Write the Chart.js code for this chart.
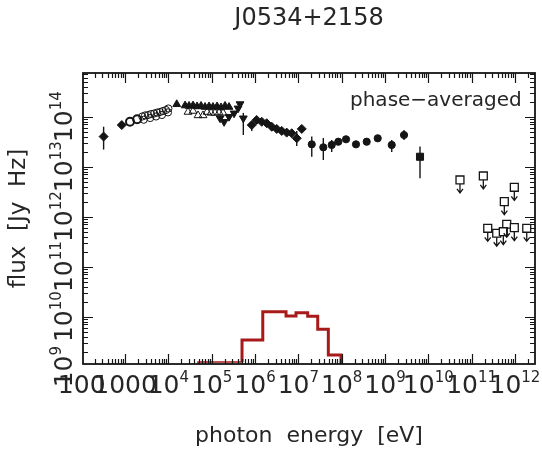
<!DOCTYPE html>
<html>
<head>
<meta charset="utf-8">
<script src="https://cdn.jsdelivr.net/npm/chart.js@4.4.1/dist/chart.umd.min.js"></script>
<style>
  html, body { margin: 0; padding: 0; background: #fff; }
  #c { display: block; }
</style>
</head>
<body>
<canvas id="c" width="542" height="453"></canvas>
<script>
// Spectral energy distribution of J0534+2158, phase-averaged.
// Photon energies in eV, fluxes in Jy Hz.

// radio / sub-mm
const radioE  = [3.2e2, 8.4e2];
const radioF  = [4.0e13, 6.8e13];
const radioLo = [2.2e13, null];
const radioHi = [6.3e13, null];

// infrared
const irE = [1.3e3, 1.9e3];
const irF = [7.9e13, 8.9e13];

// optical (open circles)
const optE = [2.5e3, 2.9e3, 3.4e3, 4.0e3, 4.7e3, 5.5e3, 6.4e3, 7.5e3, 8.8e3, 1.0e4,
              2.7e3, 3.8e3, 5.2e3, 7.1e3, 9.8e3];
const optF = [1.01e14, 1.06e14, 1.08e14, 1.13e14, 1.16e14, 1.21e14, 1.24e14, 1.30e14, 1.36e14, 1.46e14,
              8.7e13, 9.4e13, 1.01e14, 1.08e14, 1.22e14];

// UV (filled triangles)
const uvE = [1.56e4, 2.43e4, 3.0e4, 3.71e4, 4.59e4, 5.68e4, 7.02e4, 8.69e4, 1.07e5, 1.33e5, 1.64e5, 2.03e5, 2.51e5];
const uvF = [1.77e14, 1.67e14, 1.64e14, 1.67e14, 1.60e14, 1.64e14, 1.56e14, 1.60e14, 1.56e14, 1.60e14, 1.53e14, 1.64e14, 1.56e14];

// soft X-ray (open triangles)
const sxE = [2.84e4, 3.71e4, 4.84e4, 6.31e4, 7.80e4, 9.66e4, 1.19e5, 1.48e5, 1.83e5];
const sxF = [1.24e14, 1.30e14, 1.06e14, 1.06e14, 1.24e14, 1.19e14, 1.19e14, 1.21e14, 1.19e14];

// X-ray (inverted triangles)
const xrE  = [1.56e5, 1.93e5, 2.51e5, 3.28e5, 4.06e5, 4.51e5, 5.37e5];
const xrF  = [9.3e13, 7.9e13, 1.0e14, 1.17e14, 1.47e14, 1.79e14, 9.3e13];
const xrLo = [null, null, null, null, null, null, 4.3e13];
const xrHi = [null, null, null, null, null, null, 1.19e14];

// hard X-ray / soft gamma (diamonds)
const hxE  = [8.4e5, 1.09e6, 1.43e6, 1.86e6, 2.43e6, 3.17e6, 4.13e6, 5.39e6, 7.03e6, 9.18e6, 1.20e7];
const hxF  = [6.8e13, 8.6e13, 7.9e13, 7.4e13, 6.3e13, 5.7e13, 5.2e13, 4.8e13, 4.66e13, 3.7e13, 5.7e13];
const hxLo = [5.2e13, null, null, null, 5.2e13, null, 4.3e13, null, 3.9e13, 2.6e13, null];
const hxHi = [8.0e13, null, null, null, 7.4e13, null, 6.1e13, null, 5.5e13, 5.2e13, null];

// gamma rays (filled circles)
const gE  = [2.04e7, 3.77e7, 5.89e7, 8.37e7, 1.26e8, 2.14e8, 3.78e8, 6.79e8, 1.43e9, 2.75e9];
const gF  = [2.8e13, 2.44e13, 2.72e13, 3.16e13, 3.53e13, 2.8e13, 3.16e13, 3.70e13, 2.72e13, 4.3e13];
const gLo = [1.58e13, 1.36e13, 1.97e13, null, null, null, null, null, 1.97e13, 3.4e13];
const gHi = [4.0e13, 3.75e13, 3.42e13, null, null, null, null, null, 3.42e13, 5.4e13];

// highest gamma-ray point (filled square)
const hgE  = [6.43e9];
const hgF  = [1.58e13];
const hgLo = [5.9e12];
const hgHi = [2.54e13];

// TeV upper limits (open squares with arrows)
const ulE = [5.38e10, 1.86e11, 9.66e11, 5.68e11, 2.35e11, 3.79e11, 6.45e11, 5.38e11, 9.66e11, 1.87e12];
const ulF = [5.42e12, 6.52e12, 3.87e12, 2.0e12, 5.86e11, 4.66e11, 7.05e11, 5.0e11, 6.03e11, 5.86e11];

// model histogram: bin edges and levels
const modelEdges  = [4.84e4, 5.01e5, 1.51e6, 5.2e6, 8.83e6, 1.64e7, 2.8e7, 4.92e7, 9.66e7];
const modelLevels = [1.24e9, 3.42e9, 1.26e10, 1.03e10, 1.20e10, 1.02e10, 5.6e9, 1.71e9];
const modelFloor  = 1.1e9;

// axis ticks and their labels
const xTickVals = [1e2, 1e3, 1e4, 1e5, 1e6, 1e7, 1e8, 1e9, 1e10, 1e11, 1e12];
const xTickBase = ['100', '1000', '10', '10', '10', '10', '10', '10', '10', '10', '10'];
const xTickSup  = ['', '', '4', '5', '6', '7', '8', '9', '10', '11', '12'];
const yTickVals = [1e9, 1e10, 1e11, 1e12, 1e13, 1e14];
const yTickBase = ['10', '10', '10', '10', '10', '10'];
const yTickSup  = ['9', '10', '11', '12', '13', '14'];

const titleText = 'J0534+2158';
const xTitle = 'photon  energy  [eV]';
const yTitle = 'flux  [Jy  Hz]';
const noteText = 'phase\u2212averaged';

const zip = (xs, ys) => xs.map((v, i) => ({ x: v, y: ys[i] }));

// thin low-level part of the histogram and the thick main part
const thinPts = [
  { x: modelEdges[0], y: modelFloor },
  { x: modelEdges[0], y: modelLevels[0] },
  { x: modelEdges[1], y: modelLevels[0] }
];
const thickPts = [{ x: modelEdges[1], y: modelLevels[0] }];
for (let i = 1; i < modelLevels.length; i++) thickPts.push({ x: modelEdges[i], y: modelLevels[i] });
thickPts.push({ x: modelEdges[modelEdges.length - 1], y: modelFloor });

const INK = '#151515';
const TEXT = '#262626';
const RED = '#a81a1a';
const FONT = '"DejaVu Sans", "Liberation Sans", sans-serif';

function pts(label, xs, ys, style, extra) {
  return Object.assign({
    label, data: zip(xs, ys), showLine: false,
    pointStyle: style, pointRadius: 4, pointBorderColor: INK,
    pointBackgroundColor: INK, pointBorderWidth: 1, clip: false
  }, extra || {});
}

const datasets = [
  {
    label: 'model (low)', data: thinPts, showLine: true, stepped: true,
    borderColor: RED, borderWidth: 1.6, pointRadius: 0, fill: false
  },
  {
    label: 'model', data: thickPts, showLine: true, stepped: true,
    borderColor: RED, borderWidth: 3, pointRadius: 0, fill: false,
    borderJoinStyle: 'miter', borderCapStyle: 'butt'
  },
  pts('radio', radioE, radioF, 'rectRot', { pointRadius: 4.5, errLo: radioLo, errHi: radioHi }),
  pts('IR', irE, irF, 'circle', { pointRadius: 4, pointBackgroundColor: 'rgba(0,0,0,0)', pointBorderWidth: 2 }),
  pts('optical', optE, optF, 'circle', { pointRadius: 3.6, pointBackgroundColor: 'rgba(0,0,0,0)', pointBorderWidth: 1 }),
  pts('UV', uvE, uvF, 'triangle', { pointRadius: 4.5 }),
  pts('soft X', sxE, sxF, 'triangle', { pointRadius: 4.5, pointBackgroundColor: 'rgba(255,255,255,0)', pointBorderWidth: 1 }),
  pts('X', xrE, xrF, 'triangle', { pointRadius: 4.5, pointRotation: 180, errLo: xrLo, errHi: xrHi }),
  pts('hard X', hxE, hxF, 'rectRot', { pointRadius: 4.5, errLo: hxLo, errHi: hxHi }),
  pts('gamma', gE, gF, 'circle', { pointRadius: 3.6, errLo: gLo, errHi: gHi }),
  pts('gamma high', hgE, hgF, 'rect', { pointRadius: 5, errLo: hgLo, errHi: hgHi }),
  pts('upper limits', ulE, ulF, 'rect', { pointRadius: 5.6, pointBackgroundColor: '#fff', pointBorderWidth: 1.3, upperLimit: true })
];

function drawLabel(ctx, base, sup, cx, baseline, size) {
  const supSize = Math.round(size * 0.6);
  ctx.font = size + 'px ' + FONT;
  const w1 = ctx.measureText(base).width;
  ctx.font = supSize + 'px ' + FONT;
  const w2 = sup ? ctx.measureText(sup).width : 0;
  const start = cx - (w1 + w2) / 2;
  ctx.font = size + 'px ' + FONT;
  ctx.fillText(base, start, baseline);
  if (sup) {
    ctx.font = supSize + 'px ' + FONT;
    ctx.fillText(sup, start + w1, baseline - size * 0.44);
  }
}

const errorBars = {
  id: 'errorBars',
  beforeDatasetsDraw(chart) {
    const { ctx, scales: { x, y } } = chart;
    ctx.save();
    ctx.strokeStyle = INK;
    ctx.lineWidth = 1.4;
    chart.data.datasets.forEach(ds => {
      if (!ds.errLo) return;
      ds.data.forEach((p, i) => {
        if (ds.errLo[i] == null) return;
        const px = x.getPixelForValue(p.x);
        ctx.beginPath();
        ctx.moveTo(px, y.getPixelForValue(ds.errHi[i]));
        ctx.lineTo(px, y.getPixelForValue(ds.errLo[i]));
        ctx.stroke();
      });
    });
    ctx.restore();
  },
  afterDatasetsDraw(chart) {
    const { ctx, scales: { x, y } } = chart;
    ctx.save();
    ctx.strokeStyle = INK;
    ctx.lineWidth = 1.3;
    chart.data.datasets.forEach(ds => {
      if (!ds.upperLimit) return;
      ds.data.forEach(p => {
        const px = x.getPixelForValue(p.x);
        const py = y.getPixelForValue(p.y);
        ctx.beginPath();
        ctx.moveTo(px, py + 4);
        ctx.lineTo(px, py + 13);
        ctx.moveTo(px - 3, py + 9);
        ctx.lineTo(px, py + 13);
        ctx.lineTo(px + 3, py + 9);
        ctx.stroke();
      });
    });
    ctx.restore();
  }
};

const frame = {
  id: 'frame',
  afterDraw(chart) {
    const { ctx, chartArea: a, scales: { x, y } } = chart;
    ctx.save();
    ctx.strokeStyle = INK;

    // log ticks pointing inward on all four sides
    ctx.lineWidth = 1.2;
    ctx.beginPath();
    for (let d = 2; d <= 12; d++) {
      for (let k = 1; k <= 9; k++) {
        const v = k * Math.pow(10, d);
        if (v < x.min || v > x.max) continue;
        const px = Math.round(x.getPixelForValue(v)) + 0.5;
        const len = k === 1 ? 10 : 5;
        ctx.moveTo(px, a.bottom); ctx.lineTo(px, a.bottom - len);
        ctx.moveTo(px, a.top); ctx.lineTo(px, a.top + len);
      }
    }
    for (let d = 9; d <= 14; d++) {
      for (let k = 1; k <= 9; k++) {
        const v = k * Math.pow(10, d);
        if (v < y.min || v > y.max) continue;
        const py = Math.round(y.getPixelForValue(v)) + 0.5;
        const len = k === 1 ? 10 : 5;
        ctx.moveTo(a.left, py); ctx.lineTo(a.left + len, py);
        ctx.moveTo(a.right, py); ctx.lineTo(a.right - len, py);
      }
    }
    ctx.stroke();

    ctx.lineWidth = 1.8;
    ctx.strokeRect(a.left, a.top, a.right - a.left, a.bottom - a.top);

    // tick labels
    ctx.fillStyle = TEXT;
    ctx.textAlign = 'left';
    ctx.textBaseline = 'alphabetic';
    xTickVals.forEach((v, i) => {
      drawLabel(ctx, xTickBase[i], xTickSup[i], x.getPixelForValue(v), 393, 25);
    });
    yTickVals.forEach((v, i) => {
      ctx.save();
      ctx.translate(72, y.getPixelForValue(v));
      ctx.rotate(-Math.PI / 2);
      drawLabel(ctx, yTickBase[i], yTickSup[i], 0, 0, 25);
      ctx.restore();
    });

    // titles
    ctx.textAlign = 'center';
    ctx.font = '24px ' + FONT;
    ctx.fillText(titleText, (a.left + a.right) / 2, 25);
    ctx.font = '22px ' + FONT;
    ctx.fillText(xTitle, (a.left + a.right) / 2, 442);
    ctx.save();
    ctx.translate(25, (a.top + a.bottom) / 2);
    ctx.rotate(-Math.PI / 2);
    ctx.font = '23px ' + FONT;
    ctx.fillText(yTitle, 0, 0);
    ctx.restore();

    ctx.textAlign = 'left';
    ctx.font = '20px ' + FONT;
    ctx.fillText(noteText, 350, 106);
    ctx.restore();
  }
};

new Chart(document.getElementById('c'), {
  type: 'scatter',
  data: { datasets },
  options: {
    responsive: false,
    animation: false,
    devicePixelRatio: 1,
    layout: { padding: { left: 83, right: 7, top: 73, bottom: 89 } },
    plugins: { legend: { display: false }, tooltip: { enabled: false }, title: { display: false } },
    scales: {
      x: { type: 'logarithmic', min: 107, max: 2.9e12, display: false },
      y: { type: 'logarithmic', min: 1.13e9, max: 7.48e14, display: false }
    }
  },
  plugins: [errorBars, frame]
});
</script>
</body>
</html>
